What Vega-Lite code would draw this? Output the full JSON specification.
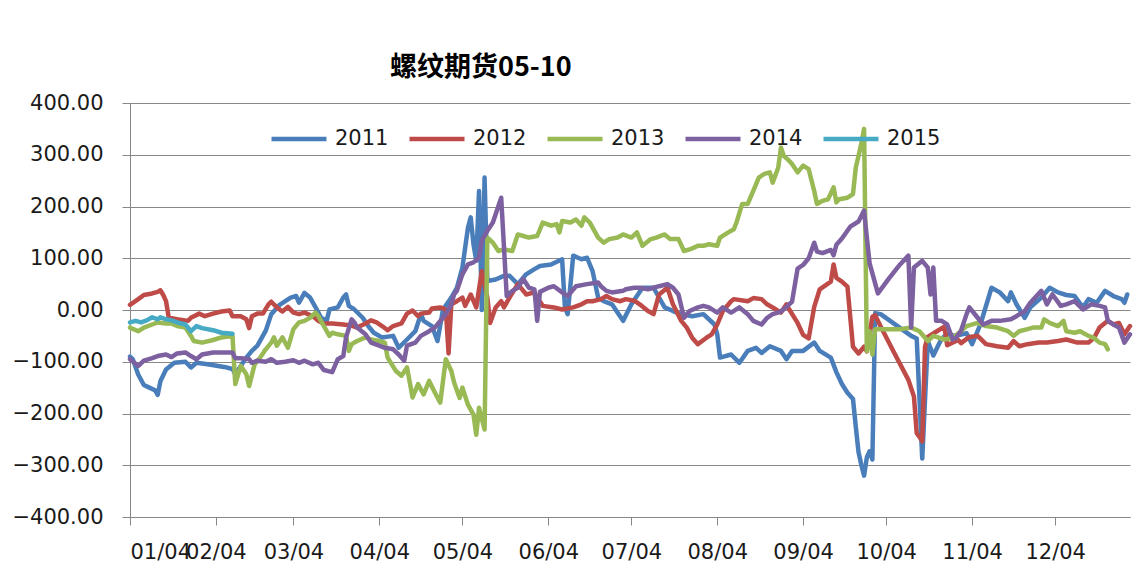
{
  "$schema": "https://vega.github.io/schema/vega-lite/v6.json",
  "width": 1000,
  "height": 414,
  "autosize": {"type": "none"},
  "padding": {"left": 130, "top": 103, "right": 13, "bottom": 62},
  "background": "white",
  "title": {"text": "螺纹期货05-10", "anchor": "start", "frame": "group", "dx": 260, "offset": 10, "font": "Noto Sans CJK SC", "fontSize": 27, "fontWeight": "bold", "color": "#000000"},
  "config": {
    "view": {"stroke": null},
    "axis": {"domainColor": "#878787", "tickColor": "#878787", "gridColor": "#878787", "gridWidth": 1, "domainWidth": 1, "tickWidth": 1, "labelFont": "DejaVu Sans", "labelFontSize": 21, "labelColor": "#1a1a1a"}
  },
  "data": {"values": [
    {"year":"2011","date":"2001-01-04","value":-90},{"year":"2011","date":"2001-01-05","value":-95},{"year":"2011","date":"2001-01-07","value":-125},{"year":"2011","date":"2001-01-09","value":-145},{"year":"2011","date":"2001-01-11","value":-150},{"year":"2011","date":"2001-01-13","value":-155},{"year":"2011","date":"2001-01-14","value":-164},{"year":"2011","date":"2001-01-15","value":-137},{"year":"2011","date":"2001-01-17","value":-115},{"year":"2011","date":"2001-01-20","value":-102},{"year":"2011","date":"2001-01-24","value":-100},{"year":"2011","date":"2001-01-26","value":-111},{"year":"2011","date":"2001-01-28","value":-102},{"year":"2011","date":"2001-02-01","value":-105},{"year":"2011","date":"2001-02-07","value":-110},{"year":"2011","date":"2001-02-10","value":-114},{"year":"2011","date":"2001-02-11","value":-124},{"year":"2011","date":"2001-02-15","value":-92},{"year":"2011","date":"2001-02-17","value":-79},{"year":"2011","date":"2001-02-19","value":-69},{"year":"2011","date":"2001-02-22","value":-40},{"year":"2011","date":"2001-02-24","value":-8},{"year":"2011","date":"2001-02-27","value":10},{"year":"2011","date":"2001-03-03","value":24},{"year":"2011","date":"2001-03-05","value":27},{"year":"2011","date":"2001-03-06","value":14},{"year":"2011","date":"2001-03-08","value":33},{"year":"2011","date":"2001-03-10","value":24},{"year":"2011","date":"2001-03-12","value":5},{"year":"2011","date":"2001-03-14","value":-15},{"year":"2011","date":"2001-03-16","value":-21},{"year":"2011","date":"2001-03-17","value":1},{"year":"2011","date":"2001-03-20","value":5},{"year":"2011","date":"2001-03-22","value":24},{"year":"2011","date":"2001-03-23","value":30},{"year":"2011","date":"2001-03-24","value":8},{"year":"2011","date":"2001-03-26","value":1},{"year":"2011","date":"2001-03-29","value":-15},{"year":"2011","date":"2001-03-31","value":-31},{"year":"2011","date":"2001-04-02","value":-44},{"year":"2011","date":"2001-04-05","value":-53},{"year":"2011","date":"2001-04-09","value":-50},{"year":"2011","date":"2001-04-11","value":-73},{"year":"2011","date":"2001-04-14","value":-57},{"year":"2011","date":"2001-04-17","value":-41},{"year":"2011","date":"2001-04-19","value":-8},{"year":"2011","date":"2001-04-20","value":-21},{"year":"2011","date":"2001-04-23","value":-31},{"year":"2011","date":"2001-04-25","value":-60},{"year":"2011","date":"2001-04-27","value":1},{"year":"2011","date":"2001-04-30","value":24},{"year":"2011","date":"2001-05-02","value":43},{"year":"2011","date":"2001-05-04","value":82},{"year":"2011","date":"2001-05-06","value":159},{"year":"2011","date":"2001-05-07","value":179},{"year":"2011","date":"2001-05-08","value":127},{"year":"2011","date":"2001-05-09","value":95},{"year":"2011","date":"2001-05-10","value":230},{"year":"2011","date":"2001-05-11","value":0},{"year":"2011","date":"2001-05-12","value":256},{"year":"2011","date":"2001-05-13","value":56},{"year":"2011","date":"2001-05-16","value":59},{"year":"2011","date":"2001-05-19","value":66},{"year":"2011","date":"2001-05-21","value":66},{"year":"2011","date":"2001-05-24","value":50},{"year":"2011","date":"2001-05-27","value":69},{"year":"2011","date":"2001-05-30","value":79},{"year":"2011","date":"2001-06-01","value":85},{"year":"2011","date":"2001-06-05","value":88},{"year":"2011","date":"2001-06-09","value":98},{"year":"2011","date":"2001-06-10","value":5},{"year":"2011","date":"2001-06-11","value":-8},{"year":"2011","date":"2001-06-13","value":105},{"year":"2011","date":"2001-06-16","value":98},{"year":"2011","date":"2001-06-18","value":101},{"year":"2011","date":"2001-06-20","value":75},{"year":"2011","date":"2001-06-22","value":24},{"year":"2011","date":"2001-06-24","value":17},{"year":"2011","date":"2001-06-27","value":11},{"year":"2011","date":"2001-07-01","value":-21},{"year":"2011","date":"2001-07-04","value":11},{"year":"2011","date":"2001-07-06","value":27},{"year":"2011","date":"2001-07-08","value":43},{"year":"2011","date":"2001-07-12","value":43},{"year":"2011","date":"2001-07-16","value":5},{"year":"2011","date":"2001-07-19","value":-2},{"year":"2011","date":"2001-07-22","value":-8},{"year":"2011","date":"2001-07-26","value":-12},{"year":"2011","date":"2001-07-30","value":-8},{"year":"2011","date":"2001-08-03","value":-28},{"year":"2011","date":"2001-08-04","value":-47},{"year":"2011","date":"2001-08-05","value":-92},{"year":"2011","date":"2001-08-09","value":-86},{"year":"2011","date":"2001-08-12","value":-102},{"year":"2011","date":"2001-08-15","value":-79},{"year":"2011","date":"2001-08-18","value":-73},{"year":"2011","date":"2001-08-20","value":-83},{"year":"2011","date":"2001-08-23","value":-70},{"year":"2011","date":"2001-08-27","value":-79},{"year":"2011","date":"2001-08-29","value":-95},{"year":"2011","date":"2001-08-31","value":-79},{"year":"2011","date":"2001-09-04","value":-79},{"year":"2011","date":"2001-09-08","value":-63},{"year":"2011","date":"2001-09-10","value":-79},{"year":"2011","date":"2001-09-14","value":-92},{"year":"2011","date":"2001-09-16","value":-120},{"year":"2011","date":"2001-09-18","value":-143},{"year":"2011","date":"2001-09-20","value":-160},{"year":"2011","date":"2001-09-22","value":-172},{"year":"2011","date":"2001-09-23","value":-225},{"year":"2011","date":"2001-09-24","value":-275},{"year":"2011","date":"2001-09-25","value":-299},{"year":"2011","date":"2001-09-26","value":-320},{"year":"2011","date":"2001-09-27","value":-285},{"year":"2011","date":"2001-09-28","value":-273},{"year":"2011","date":"2001-09-29","value":-289},{"year":"2011","date":"2001-09-30","value":-6},{"year":"2011","date":"2001-10-02","value":-8},{"year":"2011","date":"2001-10-13","value":-50},{"year":"2011","date":"2001-10-15","value":-55},{"year":"2011","date":"2001-10-17","value":-287},{"year":"2011","date":"2001-10-19","value":-60},{"year":"2011","date":"2001-10-21","value":-88},{"year":"2011","date":"2001-10-24","value":-55},{"year":"2011","date":"2001-10-26","value":-47},{"year":"2011","date":"2001-10-29","value":-50},{"year":"2011","date":"2001-11-02","value":-45},{"year":"2011","date":"2001-11-04","value":-66},{"year":"2011","date":"2001-11-07","value":-28},{"year":"2011","date":"2001-11-11","value":43},{"year":"2011","date":"2001-11-14","value":34},{"year":"2011","date":"2001-11-17","value":17},{"year":"2011","date":"2001-11-18","value":34},{"year":"2011","date":"2001-11-20","value":11},{"year":"2011","date":"2001-11-23","value":-15},{"year":"2011","date":"2001-11-25","value":5},{"year":"2011","date":"2001-11-29","value":24},{"year":"2011","date":"2001-12-02","value":43},{"year":"2011","date":"2001-12-05","value":34},{"year":"2011","date":"2001-12-08","value":29},{"year":"2011","date":"2001-12-11","value":27},{"year":"2011","date":"2001-12-14","value":5},{"year":"2011","date":"2001-12-16","value":21},{"year":"2011","date":"2001-12-19","value":14},{"year":"2011","date":"2001-12-22","value":37},{"year":"2011","date":"2001-12-25","value":27},{"year":"2011","date":"2001-12-28","value":21},{"year":"2011","date":"2001-12-29","value":14},{"year":"2011","date":"2001-12-30","value":30},
    {"year":"2012","date":"2001-01-04","value":10},{"year":"2012","date":"2001-01-07","value":21},{"year":"2012","date":"2001-01-09","value":29},{"year":"2012","date":"2001-01-12","value":32},{"year":"2012","date":"2001-01-14","value":35},{"year":"2012","date":"2001-01-15","value":38},{"year":"2012","date":"2001-01-16","value":29},{"year":"2012","date":"2001-01-17","value":17},{"year":"2012","date":"2001-01-18","value":-15},{"year":"2012","date":"2001-01-21","value":-18},{"year":"2012","date":"2001-01-25","value":-21},{"year":"2012","date":"2001-01-26","value":-15},{"year":"2012","date":"2001-01-29","value":-7},{"year":"2012","date":"2001-01-31","value":-12},{"year":"2012","date":"2001-02-03","value":-7},{"year":"2012","date":"2001-02-06","value":-3},{"year":"2012","date":"2001-02-09","value":-1},{"year":"2012","date":"2001-02-10","value":-12},{"year":"2012","date":"2001-02-13","value":-12},{"year":"2012","date":"2001-02-15","value":-18},{"year":"2012","date":"2001-02-16","value":-35},{"year":"2012","date":"2001-02-17","value":-12},{"year":"2012","date":"2001-02-19","value":-7},{"year":"2012","date":"2001-02-21","value":-7},{"year":"2012","date":"2001-02-23","value":11},{"year":"2012","date":"2001-02-24","value":16},{"year":"2012","date":"2001-02-26","value":5},{"year":"2012","date":"2001-02-28","value":-3},{"year":"2012","date":"2001-03-02","value":6},{"year":"2012","date":"2001-03-04","value":-5},{"year":"2012","date":"2001-03-06","value":-8},{"year":"2012","date":"2001-03-08","value":-5},{"year":"2012","date":"2001-03-11","value":-12},{"year":"2012","date":"2001-03-13","value":-21},{"year":"2012","date":"2001-03-15","value":-26},{"year":"2012","date":"2001-03-18","value":-26},{"year":"2012","date":"2001-03-22","value":-28},{"year":"2012","date":"2001-03-25","value":-30},{"year":"2012","date":"2001-03-27","value":-34},{"year":"2012","date":"2001-03-30","value":-26},{"year":"2012","date":"2001-04-01","value":-20},{"year":"2012","date":"2001-04-03","value":-24},{"year":"2012","date":"2001-04-05","value":-31},{"year":"2012","date":"2001-04-07","value":-39},{"year":"2012","date":"2001-04-09","value":-31},{"year":"2012","date":"2001-04-12","value":-26},{"year":"2012","date":"2001-04-14","value":-7},{"year":"2012","date":"2001-04-16","value":-1},{"year":"2012","date":"2001-04-18","value":-12},{"year":"2012","date":"2001-04-19","value":-7},{"year":"2012","date":"2001-04-22","value":-5},{"year":"2012","date":"2001-04-23","value":3},{"year":"2012","date":"2001-04-26","value":5},{"year":"2012","date":"2001-04-28","value":1},{"year":"2012","date":"2001-04-29","value":-84},{"year":"2012","date":"2001-04-30","value":11},{"year":"2012","date":"2001-05-02","value":17},{"year":"2012","date":"2001-05-04","value":24},{"year":"2012","date":"2001-05-05","value":8},{"year":"2012","date":"2001-05-07","value":30},{"year":"2012","date":"2001-05-09","value":5},{"year":"2012","date":"2001-05-11","value":75},{"year":"2012","date":"2001-05-13","value":24},{"year":"2012","date":"2001-05-14","value":-25},{"year":"2012","date":"2001-05-16","value":5},{"year":"2012","date":"2001-05-18","value":17},{"year":"2012","date":"2001-05-19","value":5},{"year":"2012","date":"2001-05-21","value":24},{"year":"2012","date":"2001-05-24","value":50},{"year":"2012","date":"2001-05-26","value":37},{"year":"2012","date":"2001-05-27","value":30},{"year":"2012","date":"2001-05-30","value":34},{"year":"2012","date":"2001-05-31","value":24},{"year":"2012","date":"2001-06-02","value":8},{"year":"2012","date":"2001-06-06","value":5},{"year":"2012","date":"2001-06-09","value":1},{"year":"2012","date":"2001-06-13","value":5},{"year":"2012","date":"2001-06-16","value":11},{"year":"2012","date":"2001-06-18","value":17},{"year":"2012","date":"2001-06-20","value":17},{"year":"2012","date":"2001-06-23","value":21},{"year":"2012","date":"2001-06-25","value":27},{"year":"2012","date":"2001-06-27","value":21},{"year":"2012","date":"2001-06-30","value":17},{"year":"2012","date":"2001-07-02","value":21},{"year":"2012","date":"2001-07-05","value":18},{"year":"2012","date":"2001-07-07","value":11},{"year":"2012","date":"2001-07-10","value":-2},{"year":"2012","date":"2001-07-12","value":-8},{"year":"2012","date":"2001-07-14","value":30},{"year":"2012","date":"2001-07-17","value":43},{"year":"2012","date":"2001-07-19","value":11},{"year":"2012","date":"2001-07-22","value":-21},{"year":"2012","date":"2001-07-24","value":-34},{"year":"2012","date":"2001-07-26","value":-54},{"year":"2012","date":"2001-07-28","value":-66},{"year":"2012","date":"2001-07-31","value":-54},{"year":"2012","date":"2001-08-02","value":-47},{"year":"2012","date":"2001-08-04","value":-28},{"year":"2012","date":"2001-08-06","value":-2},{"year":"2012","date":"2001-08-09","value":17},{"year":"2012","date":"2001-08-10","value":21},{"year":"2012","date":"2001-08-15","value":17},{"year":"2012","date":"2001-08-17","value":23},{"year":"2012","date":"2001-08-20","value":21},{"year":"2012","date":"2001-08-22","value":11},{"year":"2012","date":"2001-08-24","value":5},{"year":"2012","date":"2001-08-27","value":-5},{"year":"2012","date":"2001-08-29","value":11},{"year":"2012","date":"2001-08-30","value":1},{"year":"2012","date":"2001-09-02","value":-25},{"year":"2012","date":"2001-09-04","value":-48},{"year":"2012","date":"2001-09-06","value":-55},{"year":"2012","date":"2001-09-08","value":6},{"year":"2012","date":"2001-09-10","value":40},{"year":"2012","date":"2001-09-14","value":55},{"year":"2012","date":"2001-09-15","value":88},{"year":"2012","date":"2001-09-16","value":62},{"year":"2012","date":"2001-09-18","value":55},{"year":"2012","date":"2001-09-20","value":45},{"year":"2012","date":"2001-09-22","value":-71},{"year":"2012","date":"2001-09-24","value":-84},{"year":"2012","date":"2001-09-26","value":-71},{"year":"2012","date":"2001-09-27","value":-80},{"year":"2012","date":"2001-09-29","value":-13},{"year":"2012","date":"2001-09-30","value":-10},{"year":"2012","date":"2001-10-02","value":-32},{"year":"2012","date":"2001-10-07","value":-84},{"year":"2012","date":"2001-10-12","value":-135},{"year":"2012","date":"2001-10-14","value":-167},{"year":"2012","date":"2001-10-15","value":-238},{"year":"2012","date":"2001-10-16","value":-245},{"year":"2012","date":"2001-10-17","value":-254},{"year":"2012","date":"2001-10-18","value":-71},{"year":"2012","date":"2001-10-19","value":-52},{"year":"2012","date":"2001-10-22","value":-42},{"year":"2012","date":"2001-10-25","value":-32},{"year":"2012","date":"2001-10-26","value":-68},{"year":"2012","date":"2001-10-30","value":-58},{"year":"2012","date":"2001-10-31","value":-64},{"year":"2012","date":"2001-11-03","value":-52},{"year":"2012","date":"2001-11-06","value":-50},{"year":"2012","date":"2001-11-09","value":-66},{"year":"2012","date":"2001-11-13","value":-70},{"year":"2012","date":"2001-11-17","value":-73},{"year":"2012","date":"2001-11-19","value":-60},{"year":"2012","date":"2001-11-21","value":-70},{"year":"2012","date":"2001-11-24","value":-66},{"year":"2012","date":"2001-11-28","value":-63},{"year":"2012","date":"2001-12-01","value":-63},{"year":"2012","date":"2001-12-05","value":-60},{"year":"2012","date":"2001-12-08","value":-57},{"year":"2012","date":"2001-12-12","value":-63},{"year":"2012","date":"2001-12-16","value":-63},{"year":"2012","date":"2001-12-18","value":-54},{"year":"2012","date":"2001-12-20","value":-34},{"year":"2012","date":"2001-12-23","value":-21},{"year":"2012","date":"2001-12-25","value":-28},{"year":"2012","date":"2001-12-27","value":-25},{"year":"2012","date":"2001-12-29","value":-47},{"year":"2012","date":"2001-12-31","value":-31},
    {"year":"2013","date":"2001-01-04","value":-34},{"year":"2013","date":"2001-01-07","value":-41},{"year":"2013","date":"2001-01-09","value":-34},{"year":"2013","date":"2001-01-12","value":-28},{"year":"2013","date":"2001-01-14","value":-24},{"year":"2013","date":"2001-01-17","value":-26},{"year":"2013","date":"2001-01-19","value":-26},{"year":"2013","date":"2001-01-21","value":-31},{"year":"2013","date":"2001-01-24","value":-34},{"year":"2013","date":"2001-01-26","value":-50},{"year":"2013","date":"2001-01-27","value":-60},{"year":"2013","date":"2001-01-30","value":-63},{"year":"2013","date":"2001-02-03","value":-58},{"year":"2013","date":"2001-02-06","value":-53},{"year":"2013","date":"2001-02-10","value":-50},{"year":"2013","date":"2001-02-11","value":-143},{"year":"2013","date":"2001-02-13","value":-108},{"year":"2013","date":"2001-02-15","value":-124},{"year":"2013","date":"2001-02-16","value":-147},{"year":"2013","date":"2001-02-18","value":-105},{"year":"2013","date":"2001-02-20","value":-92},{"year":"2013","date":"2001-02-22","value":-76},{"year":"2013","date":"2001-02-24","value":-63},{"year":"2013","date":"2001-02-25","value":-53},{"year":"2013","date":"2001-02-26","value":-69},{"year":"2013","date":"2001-02-28","value":-53},{"year":"2013","date":"2001-03-02","value":-73},{"year":"2013","date":"2001-03-04","value":-37},{"year":"2013","date":"2001-03-06","value":-24},{"year":"2013","date":"2001-03-08","value":-21},{"year":"2013","date":"2001-03-10","value":-15},{"year":"2013","date":"2001-03-12","value":-5},{"year":"2013","date":"2001-03-13","value":-12},{"year":"2013","date":"2001-03-15","value":-31},{"year":"2013","date":"2001-03-17","value":-50},{"year":"2013","date":"2001-03-18","value":-44},{"year":"2013","date":"2001-03-20","value":-47},{"year":"2013","date":"2001-03-23","value":-50},{"year":"2013","date":"2001-03-24","value":-79},{"year":"2013","date":"2001-03-25","value":-66},{"year":"2013","date":"2001-03-27","value":-60},{"year":"2013","date":"2001-03-30","value":-53},{"year":"2013","date":"2001-04-01","value":-57},{"year":"2013","date":"2001-04-04","value":-60},{"year":"2013","date":"2001-04-06","value":-63},{"year":"2013","date":"2001-04-07","value":-92},{"year":"2013","date":"2001-04-10","value":-118},{"year":"2013","date":"2001-04-12","value":-127},{"year":"2013","date":"2001-04-14","value":-111},{"year":"2013","date":"2001-04-16","value":-169},{"year":"2013","date":"2001-04-18","value":-143},{"year":"2013","date":"2001-04-20","value":-163},{"year":"2013","date":"2001-04-22","value":-137},{"year":"2013","date":"2001-04-24","value":-159},{"year":"2013","date":"2001-04-26","value":-179},{"year":"2013","date":"2001-04-28","value":-95},{"year":"2013","date":"2001-04-30","value":-118},{"year":"2013","date":"2001-05-01","value":-140},{"year":"2013","date":"2001-05-03","value":-170},{"year":"2013","date":"2001-05-04","value":-150},{"year":"2013","date":"2001-05-06","value":-183},{"year":"2013","date":"2001-05-08","value":-202},{"year":"2013","date":"2001-05-09","value":-241},{"year":"2013","date":"2001-05-10","value":-189},{"year":"2013","date":"2001-05-12","value":-231},{"year":"2013","date":"2001-05-13","value":140},{"year":"2013","date":"2001-05-15","value":130},{"year":"2013","date":"2001-05-17","value":114},{"year":"2013","date":"2001-05-19","value":117},{"year":"2013","date":"2001-05-22","value":114},{"year":"2013","date":"2001-05-24","value":146},{"year":"2013","date":"2001-05-26","value":143},{"year":"2013","date":"2001-05-28","value":140},{"year":"2013","date":"2001-05-31","value":143},{"year":"2013","date":"2001-06-02","value":169},{"year":"2013","date":"2001-06-05","value":163},{"year":"2013","date":"2001-06-07","value":166},{"year":"2013","date":"2001-06-08","value":150},{"year":"2013","date":"2001-06-09","value":172},{"year":"2013","date":"2001-06-12","value":169},{"year":"2013","date":"2001-06-14","value":175},{"year":"2013","date":"2001-06-16","value":163},{"year":"2013","date":"2001-06-17","value":179},{"year":"2013","date":"2001-06-19","value":169},{"year":"2013","date":"2001-06-22","value":140},{"year":"2013","date":"2001-06-24","value":130},{"year":"2013","date":"2001-06-26","value":137},{"year":"2013","date":"2001-06-29","value":140},{"year":"2013","date":"2001-07-01","value":146},{"year":"2013","date":"2001-07-04","value":140},{"year":"2013","date":"2001-07-06","value":150},{"year":"2013","date":"2001-07-08","value":124},{"year":"2013","date":"2001-07-11","value":137},{"year":"2013","date":"2001-07-13","value":140},{"year":"2013","date":"2001-07-16","value":146},{"year":"2013","date":"2001-07-18","value":137},{"year":"2013","date":"2001-07-21","value":137},{"year":"2013","date":"2001-07-23","value":114},{"year":"2013","date":"2001-07-25","value":117},{"year":"2013","date":"2001-07-28","value":124},{"year":"2013","date":"2001-07-30","value":124},{"year":"2013","date":"2001-08-01","value":127},{"year":"2013","date":"2001-08-04","value":124},{"year":"2013","date":"2001-08-05","value":140},{"year":"2013","date":"2001-08-08","value":150},{"year":"2013","date":"2001-08-10","value":156},{"year":"2013","date":"2001-08-11","value":170},{"year":"2013","date":"2001-08-13","value":205},{"year":"2013","date":"2001-08-15","value":205},{"year":"2013","date":"2001-08-17","value":230},{"year":"2013","date":"2001-08-19","value":256},{"year":"2013","date":"2001-08-21","value":263},{"year":"2013","date":"2001-08-23","value":266},{"year":"2013","date":"2001-08-24","value":246},{"year":"2013","date":"2001-08-26","value":275},{"year":"2013","date":"2001-08-27","value":314},{"year":"2013","date":"2001-08-28","value":298},{"year":"2013","date":"2001-08-30","value":288},{"year":"2013","date":"2001-08-31","value":282},{"year":"2013","date":"2001-09-02","value":266},{"year":"2013","date":"2001-09-04","value":279},{"year":"2013","date":"2001-09-06","value":272},{"year":"2013","date":"2001-09-08","value":230},{"year":"2013","date":"2001-09-09","value":205},{"year":"2013","date":"2001-09-11","value":211},{"year":"2013","date":"2001-09-13","value":214},{"year":"2013","date":"2001-09-15","value":237},{"year":"2013","date":"2001-09-16","value":208},{"year":"2013","date":"2001-09-17","value":214},{"year":"2013","date":"2001-09-20","value":217},{"year":"2013","date":"2001-09-22","value":224},{"year":"2013","date":"2001-09-23","value":275},{"year":"2013","date":"2001-09-25","value":321},{"year":"2013","date":"2001-09-26","value":350},{"year":"2013","date":"2001-09-27","value":-79},{"year":"2013","date":"2001-09-28","value":-41},{"year":"2013","date":"2001-09-29","value":-86},{"year":"2013","date":"2001-09-30","value":-37},{"year":"2013","date":"2001-10-02","value":-37},{"year":"2013","date":"2001-10-09","value":-37},{"year":"2013","date":"2001-10-13","value":-34},{"year":"2013","date":"2001-10-16","value":-41},{"year":"2013","date":"2001-10-19","value":-60},{"year":"2013","date":"2001-10-21","value":-50},{"year":"2013","date":"2001-10-25","value":-57},{"year":"2013","date":"2001-10-28","value":-54},{"year":"2013","date":"2001-10-31","value":-41},{"year":"2013","date":"2001-11-02","value":-31},{"year":"2013","date":"2001-11-06","value":-25},{"year":"2013","date":"2001-11-09","value":-31},{"year":"2013","date":"2001-11-13","value":-34},{"year":"2013","date":"2001-11-17","value":-41},{"year":"2013","date":"2001-11-19","value":-50},{"year":"2013","date":"2001-11-21","value":-41},{"year":"2013","date":"2001-11-24","value":-37},{"year":"2013","date":"2001-11-26","value":-34},{"year":"2013","date":"2001-11-29","value":-34},{"year":"2013","date":"2001-11-30","value":-18},{"year":"2013","date":"2001-12-02","value":-25},{"year":"2013","date":"2001-12-05","value":-31},{"year":"2013","date":"2001-12-07","value":-21},{"year":"2013","date":"2001-12-08","value":-41},{"year":"2013","date":"2001-12-11","value":-44},{"year":"2013","date":"2001-12-13","value":-41},{"year":"2013","date":"2001-12-16","value":-50},{"year":"2013","date":"2001-12-18","value":-54},{"year":"2013","date":"2001-12-20","value":-63},{"year":"2013","date":"2001-12-22","value":-66},{"year":"2013","date":"2001-12-23","value":-76},
    {"year":"2014","date":"2001-01-04","value":-95},{"year":"2014","date":"2001-01-07","value":-108},{"year":"2014","date":"2001-01-09","value":-98},{"year":"2014","date":"2001-01-12","value":-93},{"year":"2014","date":"2001-01-14","value":-89},{"year":"2014","date":"2001-01-17","value":-86},{"year":"2014","date":"2001-01-19","value":-91},{"year":"2014","date":"2001-01-21","value":-84},{"year":"2014","date":"2001-01-24","value":-82},{"year":"2014","date":"2001-01-26","value":-89},{"year":"2014","date":"2001-01-28","value":-95},{"year":"2014","date":"2001-01-30","value":-86},{"year":"2014","date":"2001-02-03","value":-82},{"year":"2014","date":"2001-02-07","value":-82},{"year":"2014","date":"2001-02-10","value":-82},{"year":"2014","date":"2001-02-11","value":-93},{"year":"2014","date":"2001-02-13","value":-93},{"year":"2014","date":"2001-02-16","value":-95},{"year":"2014","date":"2001-02-17","value":-102},{"year":"2014","date":"2001-02-19","value":-98},{"year":"2014","date":"2001-02-22","value":-100},{"year":"2014","date":"2001-02-24","value":-95},{"year":"2014","date":"2001-02-26","value":-102},{"year":"2014","date":"2001-03-01","value":-100},{"year":"2014","date":"2001-03-04","value":-97},{"year":"2014","date":"2001-03-06","value":-102},{"year":"2014","date":"2001-03-08","value":-98},{"year":"2014","date":"2001-03-11","value":-105},{"year":"2014","date":"2001-03-13","value":-102},{"year":"2014","date":"2001-03-15","value":-116},{"year":"2014","date":"2001-03-18","value":-120},{"year":"2014","date":"2001-03-20","value":-95},{"year":"2014","date":"2001-03-22","value":-89},{"year":"2014","date":"2001-03-23","value":-53},{"year":"2014","date":"2001-03-25","value":-18},{"year":"2014","date":"2001-03-26","value":-24},{"year":"2014","date":"2001-03-27","value":-34},{"year":"2014","date":"2001-03-30","value":-47},{"year":"2014","date":"2001-04-01","value":-63},{"year":"2014","date":"2001-04-04","value":-69},{"year":"2014","date":"2001-04-06","value":-73},{"year":"2014","date":"2001-04-09","value":-76},{"year":"2014","date":"2001-04-11","value":-86},{"year":"2014","date":"2001-04-13","value":-98},{"year":"2014","date":"2001-04-14","value":-69},{"year":"2014","date":"2001-04-17","value":-63},{"year":"2014","date":"2001-04-19","value":-50},{"year":"2014","date":"2001-04-22","value":-41},{"year":"2014","date":"2001-04-24","value":-34},{"year":"2014","date":"2001-04-27","value":-15},{"year":"2014","date":"2001-04-28","value":-8},{"year":"2014","date":"2001-04-30","value":11},{"year":"2014","date":"2001-05-01","value":30},{"year":"2014","date":"2001-05-02","value":37},{"year":"2014","date":"2001-05-04","value":69},{"year":"2014","date":"2001-05-06","value":88},{"year":"2014","date":"2001-05-08","value":92},{"year":"2014","date":"2001-05-10","value":101},{"year":"2014","date":"2001-05-11","value":134},{"year":"2014","date":"2001-05-13","value":153},{"year":"2014","date":"2001-05-15","value":169},{"year":"2014","date":"2001-05-16","value":185},{"year":"2014","date":"2001-05-18","value":217},{"year":"2014","date":"2001-05-20","value":27},{"year":"2014","date":"2001-05-22","value":37},{"year":"2014","date":"2001-05-24","value":43},{"year":"2014","date":"2001-05-26","value":60},{"year":"2014","date":"2001-05-28","value":43},{"year":"2014","date":"2001-05-30","value":40},{"year":"2014","date":"2001-05-31","value":-21},{"year":"2014","date":"2001-06-01","value":35},{"year":"2014","date":"2001-06-04","value":43},{"year":"2014","date":"2001-06-06","value":46},{"year":"2014","date":"2001-06-09","value":34},{"year":"2014","date":"2001-06-11","value":27},{"year":"2014","date":"2001-06-14","value":46},{"year":"2014","date":"2001-06-18","value":50},{"year":"2014","date":"2001-06-22","value":53},{"year":"2014","date":"2001-06-23","value":46},{"year":"2014","date":"2001-06-25","value":37},{"year":"2014","date":"2001-06-27","value":34},{"year":"2014","date":"2001-07-01","value":37},{"year":"2014","date":"2001-07-02","value":40},{"year":"2014","date":"2001-07-05","value":43},{"year":"2014","date":"2001-07-07","value":43},{"year":"2014","date":"2001-07-10","value":40},{"year":"2014","date":"2001-07-12","value":43},{"year":"2014","date":"2001-07-14","value":46},{"year":"2014","date":"2001-07-17","value":50},{"year":"2014","date":"2001-07-19","value":43},{"year":"2014","date":"2001-07-21","value":30},{"year":"2014","date":"2001-07-23","value":-15},{"year":"2014","date":"2001-07-25","value":-2},{"year":"2014","date":"2001-07-28","value":5},{"year":"2014","date":"2001-07-30","value":8},{"year":"2014","date":"2001-08-01","value":5},{"year":"2014","date":"2001-08-04","value":-5},{"year":"2014","date":"2001-08-06","value":5},{"year":"2014","date":"2001-08-09","value":-5},{"year":"2014","date":"2001-08-12","value":5},{"year":"2014","date":"2001-08-15","value":-8},{"year":"2014","date":"2001-08-17","value":-21},{"year":"2014","date":"2001-08-20","value":-28},{"year":"2014","date":"2001-08-22","value":-15},{"year":"2014","date":"2001-08-24","value":-8},{"year":"2014","date":"2001-08-27","value":-3},{"year":"2014","date":"2001-08-29","value":6},{"year":"2014","date":"2001-08-31","value":16},{"year":"2014","date":"2001-09-02","value":80},{"year":"2014","date":"2001-09-04","value":87},{"year":"2014","date":"2001-09-06","value":100},{"year":"2014","date":"2001-09-08","value":130},{"year":"2014","date":"2001-09-09","value":113},{"year":"2014","date":"2001-09-11","value":110},{"year":"2014","date":"2001-09-14","value":116},{"year":"2014","date":"2001-09-15","value":106},{"year":"2014","date":"2001-09-16","value":126},{"year":"2014","date":"2001-09-18","value":138},{"year":"2014","date":"2001-09-21","value":161},{"year":"2014","date":"2001-09-24","value":171},{"year":"2014","date":"2001-09-26","value":192},{"year":"2014","date":"2001-09-27","value":140},{"year":"2014","date":"2001-09-28","value":90},{"year":"2014","date":"2001-10-01","value":32},{"year":"2014","date":"2001-10-05","value":61},{"year":"2014","date":"2001-10-09","value":88},{"year":"2014","date":"2001-10-12","value":105},{"year":"2014","date":"2001-10-13","value":-34},{"year":"2014","date":"2001-10-14","value":82},{"year":"2014","date":"2001-10-17","value":95},{"year":"2014","date":"2001-10-19","value":82},{"year":"2014","date":"2001-10-20","value":30},{"year":"2014","date":"2001-10-21","value":82},{"year":"2014","date":"2001-10-22","value":-21},{"year":"2014","date":"2001-10-24","value":-21},{"year":"2014","date":"2001-10-26","value":-28},{"year":"2014","date":"2001-10-28","value":-57},{"year":"2014","date":"2001-10-29","value":-55},{"year":"2014","date":"2001-10-31","value":-40},{"year":"2014","date":"2001-11-02","value":-8},{"year":"2014","date":"2001-11-03","value":5},{"year":"2014","date":"2001-11-06","value":-15},{"year":"2014","date":"2001-11-08","value":-28},{"year":"2014","date":"2001-11-11","value":-21},{"year":"2014","date":"2001-11-14","value":-21},{"year":"2014","date":"2001-11-18","value":-18},{"year":"2014","date":"2001-11-20","value":-12},{"year":"2014","date":"2001-11-23","value":-2},{"year":"2014","date":"2001-11-25","value":14},{"year":"2014","date":"2001-11-29","value":37},{"year":"2014","date":"2001-12-01","value":11},{"year":"2014","date":"2001-12-03","value":30},{"year":"2014","date":"2001-12-06","value":8},{"year":"2014","date":"2001-12-08","value":11},{"year":"2014","date":"2001-12-11","value":17},{"year":"2014","date":"2001-12-14","value":1},{"year":"2014","date":"2001-12-17","value":11},{"year":"2014","date":"2001-12-20","value":8},{"year":"2014","date":"2001-12-22","value":5},{"year":"2014","date":"2001-12-23","value":-21},{"year":"2014","date":"2001-12-25","value":-28},{"year":"2014","date":"2001-12-27","value":-34},{"year":"2014","date":"2001-12-29","value":-63},{"year":"2014","date":"2001-12-31","value":-47},
    {"year":"2015","date":"2001-01-04","value":-24},{"year":"2015","date":"2001-01-06","value":-21},{"year":"2015","date":"2001-01-08","value":-24},{"year":"2015","date":"2001-01-10","value":-20},{"year":"2015","date":"2001-01-12","value":-14},{"year":"2015","date":"2001-01-14","value":-18},{"year":"2015","date":"2001-01-15","value":-14},{"year":"2015","date":"2001-01-17","value":-18},{"year":"2015","date":"2001-01-19","value":-20},{"year":"2015","date":"2001-01-21","value":-24},{"year":"2015","date":"2001-01-24","value":-28},{"year":"2015","date":"2001-01-26","value":-41},{"year":"2015","date":"2001-01-28","value":-31},{"year":"2015","date":"2001-01-30","value":-35},{"year":"2015","date":"2001-02-03","value":-39},{"year":"2015","date":"2001-02-06","value":-44},{"year":"2015","date":"2001-02-10","value":-46}
  ]},
  "mark": {"type": "line", "strokeWidth": 4.5, "strokeJoin": "round", "strokeCap": "round"},
  "encoding": {
    "x": {
      "field": "date", "type": "temporal",
      "scale": {"type": "utc", "domain": [{"year": 2001, "month": 1, "date": 4, "utc": true}, {"year": 2001, "month": 12, "date": 31, "utc": true}]},
      "axis": {
        "title": null, "labelExpr": "utcFormat(datum.value, '%m/%d')", "labelOverlap": false, "grid": false, "tickSize": 8, "labelPadding": 16,
        "values": [
          {"year": 2001, "month": 1, "date": 4, "utc": true}, {"year": 2001, "month": 2, "date": 4, "utc": true}, {"year": 2001, "month": 3, "date": 4, "utc": true}, {"year": 2001, "month": 4, "date": 4, "utc": true},
          {"year": 2001, "month": 5, "date": 4, "utc": true}, {"year": 2001, "month": 6, "date": 4, "utc": true}, {"year": 2001, "month": 7, "date": 4, "utc": true}, {"year": 2001, "month": 8, "date": 4, "utc": true},
          {"year": 2001, "month": 9, "date": 4, "utc": true}, {"year": 2001, "month": 10, "date": 4, "utc": true}, {"year": 2001, "month": 11, "date": 4, "utc": true}, {"year": 2001, "month": 12, "date": 4, "utc": true}
        ]
      }
    },
    "y": {
      "field": "value", "type": "quantitative",
      "scale": {"domain": [-400, 400], "nice": false, "zero": false},
      "axis": {"title": null, "values": [-400, -300, -200, -100, 0, 100, 200, 300, 400], "format": ".2f", "grid": true, "tickSize": 8, "labelPadding": 19}
    },
    "color": {
      "field": "year", "type": "nominal",
      "scale": {"domain": ["2011", "2012", "2013", "2014", "2015"], "range": ["#4A7EBB", "#BE4B48", "#98B954", "#7D60A0", "#46AAC5"]},
      "legend": {"orient": "none", "legendX": 139, "legendY": 6, "direction": "horizontal", "title": null, "symbolType": "stroke", "symbolSize": 3025, "symbolStrokeWidth": 4.5, "labelFont": "DejaVu Sans", "labelFontSize": 21, "labelOffset": 6, "columnPadding": 11, "labelColor": "#1a1a1a", "padding": 0}
    }
  }
}
